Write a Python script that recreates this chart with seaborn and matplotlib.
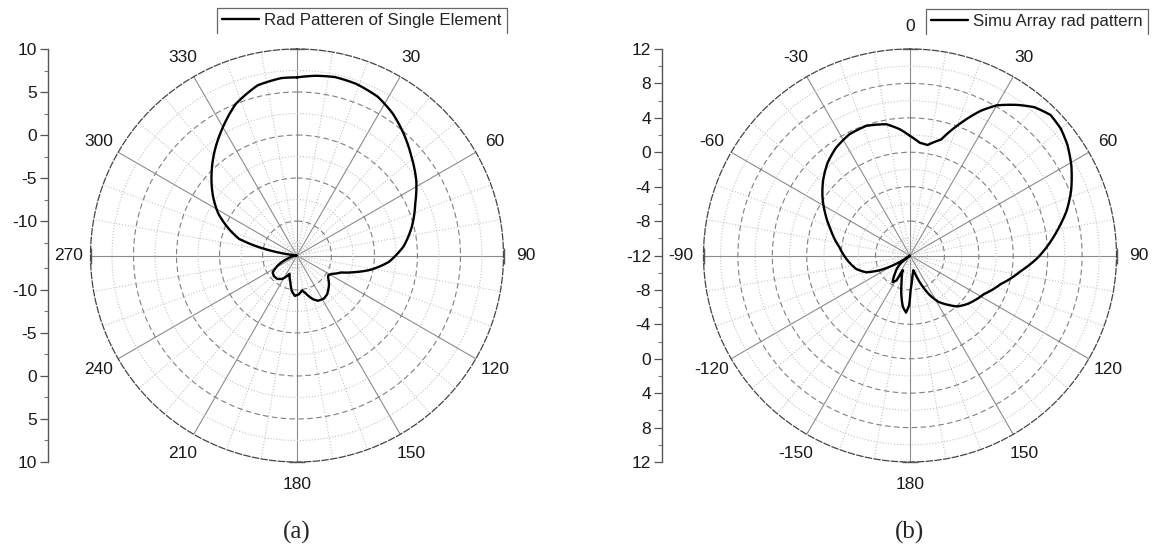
import numpy as np
import matplotlib
matplotlib.use("Agg")
import matplotlib.pyplot as plt
import seaborn as sns
from matplotlib.ticker import FixedLocator
from matplotlib.lines import Line2D

sns.set_style("white")
plt.rcParams['font.family'] = ['Liberation Sans', 'DejaVu Sans']

# ---------------- data ----------------
single_theta = [0, 6, 12, 19, 27, 34, 41, 49, 58, 66, 76, 85, 94, 101, 106, 111,
                118, 122, 125, 132, 142, 148, 155, 160, 164, 168, 172, 177, 183,
                188, 194, 202, 212, 220, 228, 235, 242, 252, 262, 270, 276, 279,
                281, 283, 286, 291, 298, 305, 314, 321, 329, 338, 347, 355, 360]
single_gain = [6.7, 7.0, 7.2, 7.1, 6.7, 5.9, 4.85, 3.6, 2.35, 1.05, -0.25, -1.55,
               -3.3, -5.3, -7.0, -8.5, -9.45, -9.7, -9.6, -9.0, -8.3, -8.1, -8.2,
               -8.6, -9.1, -9.6, -9.9, -9.5, -9.3, -9.8, -10.8, -11.7, -10.8,
               -10.45, -10.4, -10.55, -11.4, -12.9, -13.7, -14.0, -13.8, -12.0,
               -10.5, -9.0, -7.0, -5.6, -3.65, -2.1, -0.2, 1.3, 3.0, 5.0, 6.3,
               6.7, 6.7]

array_theta = [0, 5, 9, 15, 21, 26, 30, 35.5, 40, 45, 50, 55, 61, 68, 74, 79, 84,
               91, 98, 107.5, 117.5, 130, 137, 142, 148.6, 153.3, 158.5, 162.6,
               167.3, 173, 178.8, 181, 184, 188, 191, 197.5, 206.4, 208.3, 213.3,
               219.8, 225, 230, 233, 236, 240, 244, 249, 256, 265.4, 276.8, 287.7,
               296.4, 303.9, 311.1, 318.3, 325.5, 333.4, 341.4, 349.8, 355.4, 360]
array_gain = [1.9, 1.15, 1.0, 1.95, 4.5, 6.7, 8.15, 9.5, 10.5, 11.1, 10.9, 10.35,
              9.45, 8.2, 6.95, 5.7, 4.5, 2.85, 1.0, -0.95, -2.3, -3.25, -3.9, -4.7,
              -5.7, -6.8, -8.3, -9.4, -10.25, -9.7, -8.15, -6.2, -5.35, -6.0, -6.9,
              -8.8, -10.1, -8.7, -8.3, -9.27, -9.85, -10.6, -12.0, -11.2, -9.7,
              -8.1, -6.55, -5.55, -4.73, -3.73, -2.35, -1.0, 0.26, 1.39, 2.41,
              3.19, 3.75, 3.9, 3.5, 2.72, 1.9]

single_angle_labels = ['0', '30', '60', '90', '120', '150', '180', '210', '240',
                       '270', '300', '330']
array_angle_labels = ['0', '30', '60', '90', '120', '150', '180', '-150', '-120',
                      '-90', '-60', '-30']
single_radial_labels = [10, 5, 0, -5, -10]
array_radial_labels = [12, 8, 4, 0, -4, -8]
single_legend = 'Rad Patteren of Single Element'
array_legend = 'Simu Array rad pattern'

# ---------------- figure ----------------
W, H = 1157, 551
fig = plt.figure(figsize=(W / 100, H / 100), dpi=100)
fig.patch.set_facecolor('white')

R = 206.5
cy = 255.5
bottom = 1 - (cy + R) / H
height = 2 * R / H
width = 2 * R / W
FS = 12.5


def setup_polar(ax, rmin, rmax, major, minor, labels):
    ax.set_theta_zero_location('N')
    ax.set_theta_direction(-1)
    ax.set_ylim(rmin, rmax)
    ax.set_xticks(np.deg2rad(np.arange(0, 360, 30)))
    ax.set_xticklabels(labels)
    ax.xaxis.set_minor_locator(FixedLocator(
        np.deg2rad([a for a in range(0, 360, 10) if a % 30])))
    ax.set_yticks(major)
    ax.yaxis.set_minor_locator(FixedLocator(minor))
    ax.set_yticklabels([])
    ax.grid(which='major', axis='x', color='#8c8c8c', ls='-', lw=0.8)
    ax.grid(which='minor', axis='x', color='#c4c4c4', ls=':', lw=0.8)
    ax.grid(which='major', axis='y', color='#808080', ls=(0, (5, 3)), lw=0.8)
    ax.grid(which='minor', axis='y', color='#c4c4c4', ls=':', lw=0.8)
    ax.tick_params(axis='x', which='both', length=0, pad=9, labelsize=FS,
                   colors='#1a1a1a')
    ax.tick_params(axis='y', which='both', length=0)
    ax.spines['polar'].set_linestyle((0, (5, 2)))
    ax.spines['polar'].set_color('#444444')
    ax.spines['polar'].set_linewidth(0.9)
    # end caps of the 0-180 and 90-270 axis lines
    ax.plot(np.deg2rad([0, 180]), [rmax, rmax], ls='none', marker='_',
            ms=11, mew=1.0, color='#555555', clip_on=False, zorder=3)
    ax.plot(np.deg2rad([90, 270]), [rmax, rmax], ls='none', marker='|',
            ms=11, mew=1.0, color='#555555', clip_on=False, zorder=3)


def radial_axis(xpix, rmin, rmax, vals, center_label, minor_step):
    rax = fig.add_axes([xpix / W, bottom, 1e-4, height])
    span = rmax - rmin
    rax.set_ylim(-span, span)
    pos, lab = [], []
    for v in vals:
        pos += [v - rmin, -(v - rmin)]
        lab += [str(v), str(v)]
    if center_label is not None:
        pos.append(0)
        lab.append(center_label)
    rax.set_yticks(pos)
    rax.set_yticklabels(lab)
    mins = []
    v = rmax
    while v > rmin + 1e-9:
        if v not in vals:
            mins += [v - rmin, -(v - rmin)]
        v -= minor_step
    rax.yaxis.set_minor_locator(FixedLocator(mins))
    rax.set_xticks([])
    for s in ['top', 'right', 'bottom']:
        rax.spines[s].set_visible(False)
    rax.spines['left'].set_color('#555555')
    rax.spines['left'].set_linewidth(1.0)
    rax.tick_params(axis='y', which='major', direction='out', length=6,
                    width=0.9, color='#555555', labelsize=FS, pad=2,
                    labelcolor='#1a1a1a', left=True)
    rax.tick_params(axis='y', which='minor', direction='out', length=3,
                    width=0.8, color='#777777', left=True)
    rax.patch.set_visible(False)
    return rax


def smooth_polar_lines(ax):
    for ln in ax.get_lines():
        if ln.get_linestyle() not in ('None', 'none', ''):
            ln.get_path()._interpolation_steps = 20


def open_legend(ax, x0, y0):
    leg = ax.legend(loc='upper left', bbox_to_anchor=(x0 / W, 1 - y0 / H),
                    bbox_transform=fig.transFigure, frameon=True,
                    fancybox=False, fontsize=12.2, handlelength=2.2,
                    borderpad=0.3, handletextpad=0.3, borderaxespad=0,
                    framealpha=1)
    leg.get_frame().set_edgecolor('white')
    return leg


# ---- (a) single element ----
axa = fig.add_axes([(297 - R) / W, bottom, width, height], projection='polar')
setup_polar(axa, -14, 10, [-10, -5, 0, 5], [-12.5, -7.5, -2.5, 2.5, 7.5],
            single_angle_labels)
sns.lineplot(x=np.deg2rad(single_theta), y=single_gain, ax=axa, sort=False,
             estimator=None, color='black', linewidth=1.7, label=single_legend)
smooth_polar_lines(axa)
axa.set_xlabel('')
axa.set_ylabel('')
lega = open_legend(axa, 217, 8)
radial_axis(48, -14, 10, single_radial_labels, None, 2.5)

# ---- (b) array ----
axb = fig.add_axes([(910 - R) / W, bottom, width, height], projection='polar')
setup_polar(axb, -12, 12, [-8, -4, 0, 4, 8], [-10, -6, -2, 2, 6, 10],
            array_angle_labels)
sns.lineplot(x=np.deg2rad(array_theta), y=array_gain, ax=axb, sort=False,
             estimator=None, color='black', linewidth=1.7, label=array_legend)
smooth_polar_lines(axb)
axb.set_xlabel('')
axb.set_ylabel('')
legb = open_legend(axb, 926, 9)
radial_axis(662, -12, 12, array_radial_labels, '-12', 2)

fig.text(297 / W, 1 - 532 / H, '(a)', ha='center', va='center', fontsize=18,
         family='Liberation Serif')
fig.text(910 / W, 1 - 532 / H, '(b)', ha='center', va='center', fontsize=18,
         family='Liberation Serif')

# three-sided legend boxes (open at the bottom, as in the reference)
fig.canvas.draw()
inv = fig.transFigure.inverted()
for leg in (lega, legb):
    bb = leg.get_window_extent()
    (x0, y0), (x1, y1) = inv.transform([[bb.x0, bb.y0], [bb.x1, bb.y1]])
    fig.add_artist(Line2D([x0, x0, x1, x1], [y0, y1, y1, y0],
                          transform=fig.transFigure, color='#666666', lw=0.9,
                          zorder=10))

fig.savefig('out.png', dpi=100)
